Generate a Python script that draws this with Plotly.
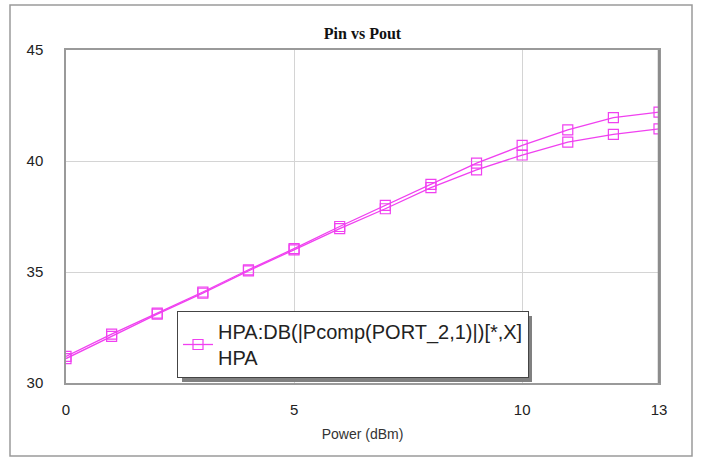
import plotly.graph_objects as go

power = list(range(0, 14))
pout_a = [31.2, 32.2, 33.15, 34.1, 35.1, 36.05, 37.05, 38.0, 38.95, 39.9, 40.7, 41.4, 41.95, 42.2]
pout_b = [31.1, 32.1, 33.1, 34.05, 35.05, 36.0, 36.95, 37.85, 38.8, 39.6, 40.27, 40.85, 41.2, 41.45]
xticks = [0, 5, 10, 13]
yticks = [30, 35, 40, 45]

color = "#f040f0"
W, H = 702, 459
L, R, T, B = 66, 43, 50, 76
pw, ph = W - L - R, H - T - B

fig = go.Figure()
fig.add_trace(go.Scatter(x=power, y=pout_a, mode="lines+markers",
                         name="HPA:DB(|Pcomp(PORT_2,1)|)[*,X]<br>HPA",
                         line=dict(color=color, width=1.3),
                         marker=dict(symbol="square-open", size=10, color=color, line=dict(width=1.2))))
fig.add_trace(go.Scatter(x=power, y=pout_b, mode="lines+markers", showlegend=False,
                         line=dict(color=color, width=1.3),
                         marker=dict(symbol="square-open", size=10, color=color, line=dict(width=1.2))))

def px_x(p):
    return (p - L) / pw
def px_y(p):
    return (H - B - p) / ph

shapes = [
    dict(type="rect", xref="paper", yref="paper", x0=px_x(10), x1=px_x(692), y0=px_y(456), y1=px_y(5),
         line=dict(color="#9a9a9a", width=1.5), layer="below"),
    dict(type="line", xref="paper", yref="paper", x0=1, x1=1, y0=0, y1=1, line=dict(color="#8c8c8c", width=2.5)),
    dict(type="rect", xref="paper", yref="paper", x0=px_x(182), x1=px_x(532), y0=px_y(382), y1=px_y(316),
         fillcolor="#808080", line=dict(width=0), layer="above"),
]

fig.update_layout(
    width=W, height=H,
    margin=dict(l=L, r=R, t=T, b=B),
    paper_bgcolor="white", plot_bgcolor="white",
    title=dict(text="<b>Pin vs Pout</b>", x=0.5, xref="paper", y=1 - 33 / H, yanchor="middle",
               font=dict(family="Liberation Serif", size=16, color="#111")),
    font=dict(family="Liberation Sans", color="#222"),
    xaxis=dict(range=[0, 13], tickvals=xticks, showgrid=True, gridcolor="#d4d4d4", gridwidth=1,
               showline=True, linecolor="#9a9a9a", linewidth=1.5, mirror=True, zeroline=False,
               ticks="", ticklabelstandoff=12, tickfont=dict(size=15, color="#222"),
               title=dict(text="Power (dBm)", font=dict(size=14, color="#333"), standoff=12)),
    yaxis=dict(range=[30, 45], tickvals=yticks, showgrid=True, gridcolor="#d4d4d4", gridwidth=1,
               showline=True, linecolor="#9a9a9a", linewidth=1.5, mirror=True, zeroline=False,
               ticks="", ticklabelstandoff=18, tickfont=dict(size=15, color="#222")),
    legend=dict(x=px_x(177), y=px_y(378), xanchor="left", yanchor="bottom",
                bgcolor="white", bordercolor="#444", borderwidth=1,
                font=dict(family="Liberation Sans", size=20, color="#222"),
                itemwidth=30, tracegroupgap=0),
    showlegend=True,
    shapes=shapes,
)

fig.write_html("out.html", config={"displayModeBar": False},
               post_script="document.body.style.margin='0';document.body.style.overflow='hidden';")
